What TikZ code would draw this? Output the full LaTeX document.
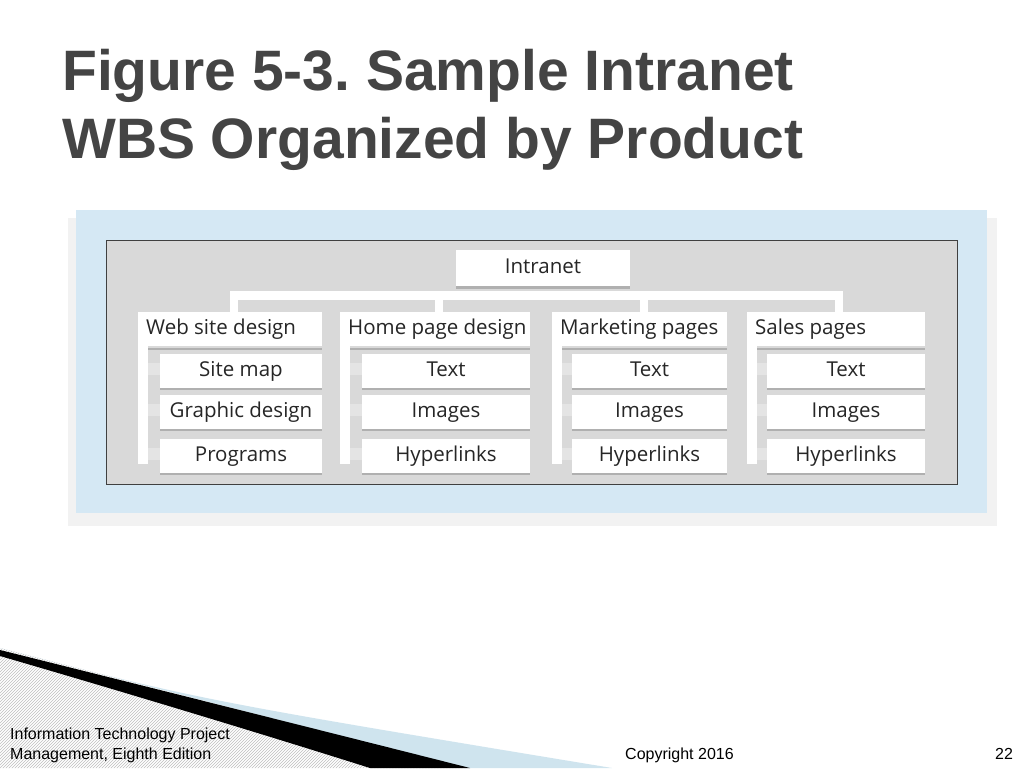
\documentclass[tikz,border=0pt]{standalone}
\usepackage{fontspec}
\setmainfont{Liberation Sans}
\newfontfamily\wbsfont{Open Sans}
\usetikzlibrary{positioning,patterns}

\definecolor{titlegray}{HTML}{444444}
\definecolor{panelblue}{HTML}{D5E8F4}
\definecolor{boxgray}{HTML}{D9D9D9}
\definecolor{edgegray}{HTML}{B0B0B0}
\definecolor{footblue}{HTML}{CFE4EE}

\tikzset{
  wbs/.style={fill=white,draw=none,inner sep=0pt,text height=14pt,text depth=4pt,
    font=\wbsfont\fontsize{20.5}{24}\selectfont,text=black!85},
  shade line/.style={draw=edgegray,line width=1.5pt},
  foot/.style={font=\fontsize{16}{18}\selectfont,anchor=base west,inner sep=0pt}
}

\begin{document}
\frenchspacing
\begin{tikzpicture}[x=1pt,y=-1pt]
  \useasboundingbox (0,0) rectangle (1024,768);
  \fill[white] (0,0) rectangle (1024,768);

  % title
  \node[anchor=base west,inner sep=0pt,text=titlegray,font=\bfseries\fontsize{57}{64}\selectfont] (title1) at (62,90) {Figure 5-3. Sample Intranet};
  \node[anchor=base west,inner sep=0pt,text=titlegray,font=\bfseries\fontsize{57}{64}\selectfont] (title2) at (62,158) {WBS Organized by Product};

  % panel
  \fill[black!5] (68,218) rectangle (997,526);
  \fill[panelblue] (76,210) rectangle (987,513);
  \draw[fill=boxgray,draw=black!75,line width=1pt] (106,240) rectangle (957,484);

  % top level
  \fill[white] (230,291) rectangle (843,300);
  \foreach \x in {230,435,640,835} {
    \fill[white] (\x,291) rectangle (\x+8,312);
  }
  \fill[edgegray] (456,286) rectangle (630,289);
  \node[wbs,minimum width=174pt,minimum height=36pt] (intranet) at (543,268) {Intranet};

  % columns
  \foreach \l/\cl/\r/\head/\a/\b/\c [count=\i] in {
      138/160/322/Web site design/Site map/Graphic design/Programs,
      340/362/530/Home page design/Text/Images/Hyperlinks,
      552/572/727/Marketing pages/Text/Images/Hyperlinks,
      747/767/925/Sales pages/Text/Images/Hyperlinks} {
    \fill[white] (\l,312) rectangle (\l+10,464);
    \fill[white] (\l,312) rectangle (\r,346);
    \draw[shade line] (\l+10,349) -- (\r,349);
    \node[wbs,anchor=west,fill=none] (head\i) at (\l+8,329) {\head};
    \foreach \t/\y [count=\j] in {\a/371,\b/412,\c/456} {
      \fill[boxgray!70] (\l+10,\y-8) rectangle (\cl,\y+4);
      \draw[shade line] (\cl,\y+18) -- (\r,\y+18);
      \node[wbs,minimum width=\r-\cl,minimum height=34pt] (child\i\j) at ({(\cl+\r)/2},\y) {\t};
    }
  }

  % footer decoration
  \fill[pattern=north east lines,pattern color=black!25] (0,648) -- (465,768) -- (0,768) -- cycle;
  \fill[footblue] (0,648) .. controls (200,700) .. (612,768) -- (465,768) -- cycle;
  \fill[black] (0,650) .. controls (120,680) and (300,725) .. (470,768) -- (370,768) .. controls (250,730) and (100,685) .. (0,656) -- cycle;

  \node[foot] (foot1) at (10,739) {Information Technology Project};
  \node[foot] (foot2) at (10,759) {Management, Eighth Edition};
  \node[foot] (copy) at (625,759) {Copyright 2016};
  \node[foot] (page) at (995,759) {22};
\end{tikzpicture}
\end{document}
